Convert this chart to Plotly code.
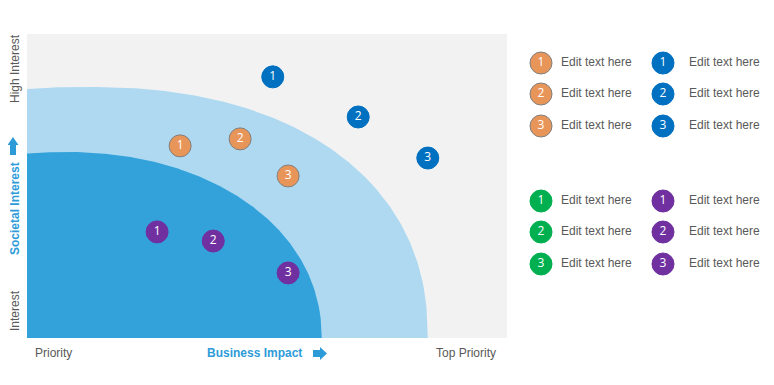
import numpy as np
import plotly.graph_objects as go

# ---------------- data ----------------
orange_labels = ["1", "2", "3"]
orange_x = [3.19, 4.44, 5.44]
orange_y = [6.32, 6.55, 5.33]

blue_labels = ["1", "2", "3"]
blue_x = [5.12, 6.90, 8.35]
blue_y = [8.59, 7.27, 5.92]

purple_labels = ["1", "2", "3"]
purple_x = [2.71, 3.88, 5.44]
purple_y = [3.49, 3.19, 2.14]

green_labels = ["1", "2", "3"]

legend_text = ["Edit text here", "Edit text here", "Edit text here"]

# zone boundaries (superellipse parameters in data units)
outer_zone = dict(cx=1.25, a=7.10, b=8.26, n=2.25)
inner_zone = dict(cx=0.79, a=5.35, b=6.12, n=2.1)

C_ORANGE = "#E8955A"
C_BLUE = "#0070C0"
C_PURPLE = "#7030A0"
C_GREEN = "#00B050"
C_LIGHT = "#AED9F1"
C_MID = "#33A2DA"
C_BG = "#F2F2F2"
C_TEXT = "#595959"
C_ACCENT = "#2E9BD9"

OFF = 8                     # page body margin
W, H = 774 - 2 * OFF, 385 - 2 * OFF
PX0, PX1, PY0, PY1 = 27, 507, 34, 338  # plot area in page pixels


def zone(p):
    xs = np.linspace(0, p["cx"] + p["a"], 300)
    u = np.clip(np.abs((xs - p["cx"]) / p["a"]), 0, 1)
    ys = p["b"] * (1 - u ** p["n"]) ** (1 / p["n"])
    xs = np.concatenate([[0], xs, [0]])
    ys = np.concatenate([[0], ys, [0]])
    return xs, ys


fig = go.Figure()

for p, col in [(outer_zone, C_LIGHT), (inner_zone, C_MID)]:
    zx, zy = zone(p)
    fig.add_trace(go.Scatter(x=zx, y=zy, mode="lines", fill="toself",
                             fillcolor=col, line=dict(width=0),
                             hoverinfo="skip", showlegend=False,
                             xaxis="x", yaxis="y"))


def pts(xs, ys, labels, color, outline, xa="x", ya="y"):
    fig.add_trace(go.Scatter(
        x=xs, y=ys, text=labels, mode="markers+text",
        textposition="middle center",
        textfont=dict(color="white", size=12, family="Open Sans"),
        marker=dict(size=22, color=color,
                    line=dict(color=outline, width=1)),
        showlegend=False, hoverinfo="skip", xaxis=xa, yaxis=ya))


pts(orange_x, orange_y, orange_labels, C_ORANGE, "#808080")
pts(blue_x, blue_y, blue_labels, C_BLUE, C_BLUE)
pts(purple_x, purple_y, purple_labels, C_PURPLE, C_PURPLE)

# ---------------- custom legend (page-pixel coordinates on x2/y2) ----------------
col_x = [541, 663]
text_x = [561, 689]
rows_top = [63, 94, 126]
rows_bot = [201, 232, 264]
groups = [
    (0, rows_top, orange_labels, C_ORANGE, "#808080"),
    (1, rows_top, blue_labels, C_BLUE, C_BLUE),
    (0, rows_bot, green_labels, C_GREEN, C_GREEN),
    (1, rows_bot, purple_labels, C_PURPLE, C_PURPLE),
]
for ci, rows, labels, color, outline in groups:
    pts([col_x[ci]] * len(rows), rows, labels, color, outline, "x2", "y2")
    fig.add_trace(go.Scatter(
        x=[text_x[ci]] * len(rows), y=rows, text=legend_text, mode="text",
        textposition="middle right",
        textfont=dict(color=C_TEXT, size=12, family="Liberation Sans"),
        showlegend=False, hoverinfo="skip", xaxis="x2", yaxis="y2"))

# ---------------- labels ----------------
ann = []
def label(x, y, text, angle=0, color=C_TEXT, bold=False):
    ann.append(dict(x=x, y=y, xref="x2", yref="y2", text=f"<b>{text}</b>" if bold else text,
                    showarrow=False, textangle=angle,
                    font=dict(color=color, size=12, family="Liberation Sans"),
                    xanchor="center", yanchor="middle"))

label(15, 69, "High Interest", -90)
label(15, 209, "Societal Interest", -90, C_ACCENT, True)
label(15, 311, "Interest", -90)
label(53, 353, "Priority")
label(254, 353, "Business Impact", 0, C_ACCENT, True)
label(466, 353, "Top Priority")
fig.update_layout(annotations=ann)

shapes = [
    dict(type="rect", xref="x", yref="y", x0=0, x1=10, y0=0, y1=10,
         fillcolor=C_BG, line=dict(width=0), layer="below"),
    # right arrow
    dict(type="path", xref="x2", yref="y2",
         path="M313,350 L320,350 L320,347 L327,353.5 L320,360 L320,357 L313,357 Z",
         fillcolor=C_ACCENT, line=dict(width=0)),
    # up arrow
    dict(type="path", xref="x2", yref="y2",
         path="M10,155 L10,145 L7.5,145 L13,137 L18.5,145 L16,145 L16,155 Z",
         fillcolor=C_ACCENT, line=dict(width=0)),
]
fig.update_layout(shapes=shapes)

fig.update_layout(
    width=W, height=H,
    margin=dict(l=0, r=0, t=0, b=0),
    paper_bgcolor="white", plot_bgcolor="rgba(0,0,0,0)",
    xaxis=dict(domain=[(PX0 - OFF) / W, (PX1 - OFF) / W], range=[0, 10],
               visible=False, fixedrange=True),
    yaxis=dict(domain=[1 - (PY1 - OFF) / H, 1 - (PY0 - OFF) / H], range=[0, 10],
               visible=False, fixedrange=True),
    xaxis2=dict(domain=[0, 1], range=[OFF, OFF + W], visible=False, anchor="y2", fixedrange=True),
    yaxis2=dict(domain=[0, 1], range=[OFF + H, OFF], visible=False, anchor="x2", fixedrange=True),
    showlegend=False,
)

fig.write_html("out.html")
